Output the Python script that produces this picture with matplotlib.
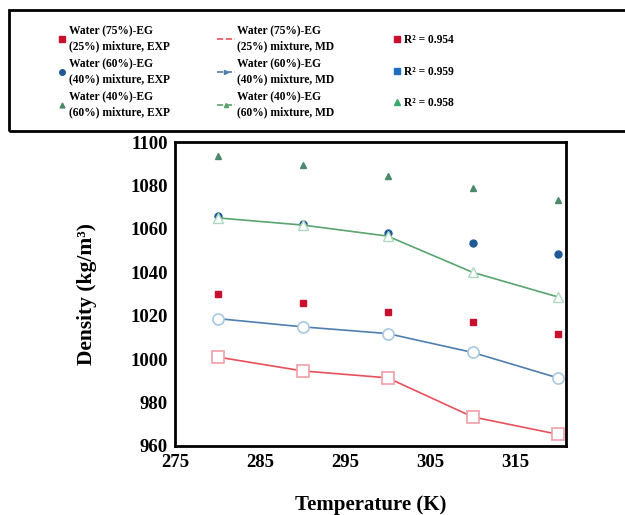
import matplotlib
matplotlib.use("Agg")
from matplotlib import pyplot
from matplotlib.lines import Line2D
from matplotlib.patches import Rectangle

temperature = [280, 290, 300, 310, 320]

exp_75 = [1030.0, 1026.1, 1021.7, 1017.1, 1011.7]
exp_60 = [1066.0, 1062.5, 1058.2, 1053.6, 1048.4]
exp_40 = [1093.5, 1089.4, 1084.3, 1079.1, 1073.3]

md_75 = [1001.0, 994.6, 991.4, 973.4, 965.4]
md_60 = [1018.7, 1014.9, 1011.8, 1003.1, 991.4]
md_40 = [1065.1, 1061.8, 1056.7, 1040.0, 1028.7]

r2_values = ["0.954", "0.959", "0.958"]
mix_labels = ["Water (75%)-EG\n(25%) mixture", "Water (60%)-EG\n(40%) mixture",
              "Water (40%)-EG\n(60%) mixture"]
x_ticks = [275, 285, 295, 305, 315]
y_ticks = [960, 980, 1000, 1020, 1040, 1060, 1080, 1100]

red_exp, blue_exp, green_exp = "#c8102e", "#1f5a96", "#4a8a6a"
red_md, blue_md, green_md = "#e8505b", "#4f7fae", "#5aa470"

pyplot.rcParams["font.family"] = ["Liberation Serif", "DejaVu Serif"]
pyplot.rcParams["font.weight"] = "bold"

fig = pyplot.figure(figsize=(6.25, 5.15), dpi=100)
ax = fig.add_axes([0.28, 0.134, 0.626, 0.59])

ax.plot(temperature, exp_75, "s", color=red_exp, markersize=5, linestyle="none")
ax.plot(temperature, exp_60, "o", color=blue_exp, markersize=5, linestyle="none")
ax.plot(temperature, exp_40, "^", color=green_exp, markersize=4, linestyle="none")

ax.plot(temperature, md_75, "-s", color=red_md, linewidth=1.2, markersize=8,
        markerfacecolor="white", markeredgecolor="#f0a0a8", markeredgewidth=1.2)
ax.plot(temperature, md_60, "-o", color=blue_md, linewidth=1.2, markersize=8,
        markerfacecolor="white", markeredgecolor="#a8c8e0", markeredgewidth=1.2)
ax.plot(temperature, md_40, "-^", color=green_md, linewidth=1.2, markersize=7,
        markerfacecolor="white", markeredgecolor="#b0d8c0", markeredgewidth=1.0)

ax.set_xlim(275, 321)
ax.set_ylim(960, 1100)
ax.set_xticks(x_ticks)
ax.set_yticks(y_ticks)
ax.tick_params(axis="x", length=0, labelsize=13.5, pad=6)
ax.tick_params(axis="y", length=0, labelsize=13.5, pad=5)
for lab in ax.get_xticklabels() + ax.get_yticklabels():
    lab.set_fontweight("bold")
for spine in ax.spines.values():
    spine.set_linewidth(2.0)
ax.set_xlabel("Temperature (K)", fontsize=15, fontweight="bold", labelpad=17)
ax.set_ylabel("Density (kg/m³)", fontsize=15.5, fontweight="bold", labelpad=24)

# legend box
fig.add_artist(Rectangle((0.015, 0.745), 1.0, 0.236, transform=fig.transFigure,
                         fill=False, edgecolor="black", linewidth=2.0))

font = {"weight": "bold", "size": 8.3}


def column_legend(handles, texts, x, y, hlen, hpad, spacing):
    leg = fig.legend(handles, texts, loc="upper left", bbox_to_anchor=(x, y),
                     frameon=False, prop=font, handlelength=hlen, handletextpad=hpad,
                     labelspacing=spacing, borderaxespad=0, borderpad=0)
    for t in leg.get_texts():
        t.set_linespacing(1.3)
    return leg


exp_handles = [
    Line2D([], [], marker="s", color=red_exp, linestyle="none", markersize=4),
    Line2D([], [], marker="o", color=blue_exp, linestyle="none", markersize=4),
    Line2D([], [], marker="^", color=green_exp, linestyle="none", markersize=3.5),
]
md_handles = [
    Line2D([], [], color=red_md, linestyle="--", linewidth=1.2),
    Line2D([], [], color=blue_md, linestyle="--", marker=">", markersize=3, linewidth=1.2),
    Line2D([], [], color=green_md, linestyle="--", marker="^", markersize=3, linewidth=1.2),
]
r2_handles = [
    Line2D([], [], marker="s", color=red_exp, linestyle="none", markersize=4),
    Line2D([], [], marker="s", color="#1f6fc0", linestyle="none", markersize=4),
    Line2D([], [], marker="^", color="#3aaa6a", linestyle="none", markersize=4),
]

column_legend(exp_handles, [m + ", EXP" for m in mix_labels], 0.092, 0.951, 0.8, 0.2, 0.55)
column_legend(md_handles, [m + ", MD" for m in mix_labels], 0.347, 0.951, 1.56, 0.17, 0.55)
column_legend(r2_handles, ["R² = " + r for r in r2_values], 0.63, 0.934, 0.6, 0.3, 1.7)

fig.savefig("out.png", dpi=100)
